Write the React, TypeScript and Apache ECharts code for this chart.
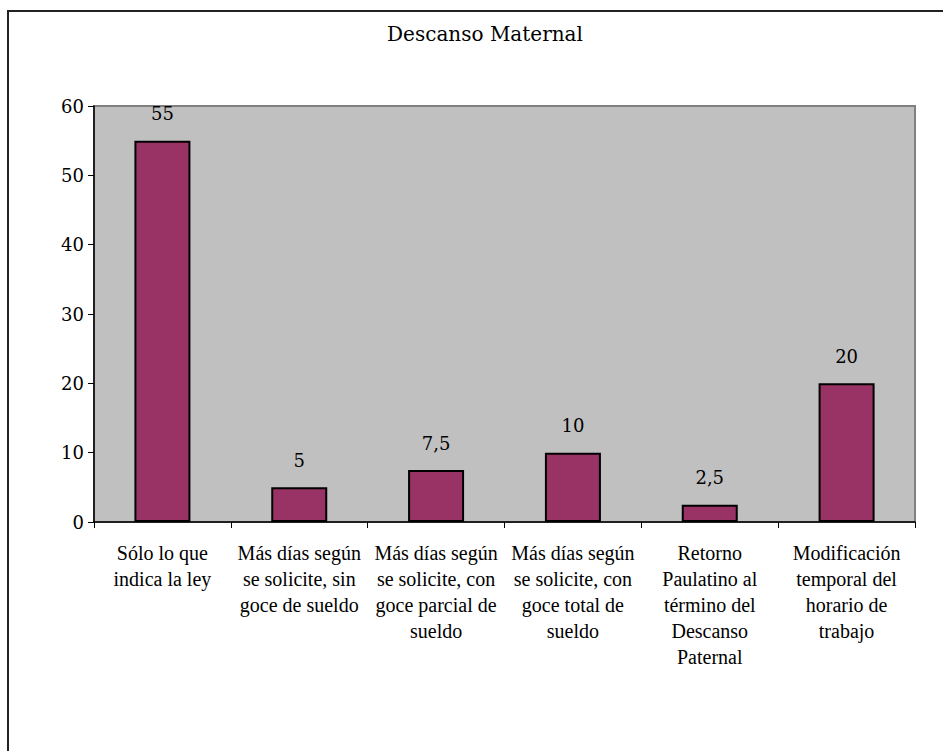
import React, { useEffect, useRef } from "react";
import * as echarts from "echarts";

const title = "Descanso Maternal";
const categories = [
  "Sólo lo que\nindica la ley",
  "Más días según\nse solicite, sin\ngoce de sueldo",
  "Más días según\nse solicite, con\ngoce parcial de\nsueldo",
  "Más días según\nse solicite, con\ngoce total de\nsueldo",
  "Retorno\nPaulatino al\ntérmino del\nDescanso\nPaternal",
  "Modificación\ntemporal del\nhorario de\ntrabajo",
];
const values = [55, 5, 7.5, 10, 2.5, 20];
const yTicks = { min: 0, max: 60, interval: 10 };

const TIMES = "'Liberation Serif', 'Times New Roman', serif";
const BOOK = "'DejaVu Serif', serif";

export default function App() {
  const ref = useRef<HTMLDivElement>(null);
  useEffect(() => {
    if (!ref.current) return;
    const chart = echarts.init(ref.current, null, { renderer: "svg" });
    chart.setOption({
      animation: false,
      backgroundColor: "#ffffff",
      textStyle: { fontFamily: TIMES },
      title: {
        text: title,
        left: 480,
        textAlign: "center",
        top: 19,
        textStyle: { fontFamily: BOOK, fontSize: 20, fontWeight: "normal", color: "#000" },
      },
      graphic: [
        {
          type: "rect",
          shape: { x: 8, y: 11, width: 1000, height: 1000 },
          style: { fill: "none", stroke: "#222", lineWidth: 2 },
          z: 100,
        },
      ],
      grid: {
        left: 94,
        right: 28,
        top: 106,
        bottom: 229,
        show: true,
        backgroundColor: "#C0C0C0",
        borderColor: "#808080",
        borderWidth: 2,
      },
      xAxis: {
        type: "category",
        data: categories,
        axisLine: { lineStyle: { color: "#000", width: 1.5 } },
        axisTick: { show: true, alignWithLabel: false, length: 6, lineStyle: { color: "#000" } },
        axisLabel: {
          interval: 0,
          margin: 18,
          fontFamily: TIMES,
          fontSize: 20,
          lineHeight: 26,
          color: "#000",
          align: "center",
        },
      },
      yAxis: {
        type: "value",
        min: yTicks.min,
        max: yTicks.max,
        interval: yTicks.interval,
        splitLine: { show: false },
        axisLine: { show: true, lineStyle: { color: "#000", width: 1.5 } },
        axisTick: { show: true, length: 6, lineStyle: { color: "#000" } },
        axisLabel: {
          margin: 10,
          fontFamily: BOOK,
          fontSize: 18,
          color: "#000",
        },
      },
      series: [
        {
          type: "bar",
          data: values,
          barWidth: 56,
          itemStyle: { color: "#993366", borderColor: "#000", borderWidth: 2 },
          label: {
            show: true,
            position: "top",
            distance: 18,
            fontFamily: BOOK,
            fontSize: 18,
            color: "#000",
            formatter: (p: any) => String(p.value).replace(".", ","),
          },
        },
      ],
    });
    return () => chart.dispose();
  }, []);
  return (
    <div
      ref={ref}
      style={{ position: "fixed", left: 0, top: 0, width: 943, height: 751 }}
    />
  );
}
